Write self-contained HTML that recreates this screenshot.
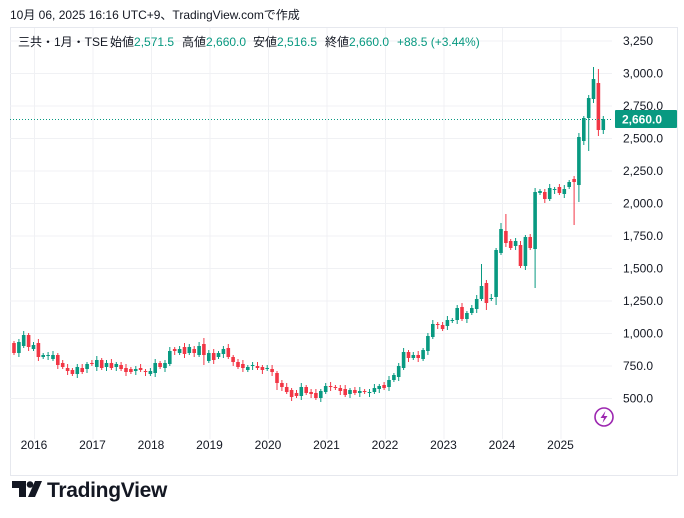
<!DOCTYPE html>
<html><head><meta charset="utf-8"><style>
body{margin:0;background:#fff;width:684px;height:518px;overflow:hidden;font-family:"Liberation Sans","Noto Sans CJK JP",sans-serif}
</style></head><body>
<svg id="s" width="684" height="518" xmlns="http://www.w3.org/2000/svg" style="position:absolute;left:0;top:0">
<rect x="10.5" y="27.5" width="667" height="448" fill="#fff" stroke="#e6e8ee"/>
<g id="grid" stroke="#f0f1f4" stroke-width="1"></g>
<g id="c"></g>
<line x1="10" y1="119.5" x2="612" y2="119.5" stroke="#089981" stroke-dasharray="1,2"/>
<g font-size="12" fill="#131722" font-family="Liberation Sans,sans-serif" id="ax"></g>
<rect x="615" y="110" width="62" height="18" fill="#089981" rx="1"/>
<text x="622" y="123.5" font-size="12" font-weight="bold" fill="#fff" font-family="Liberation Sans,sans-serif">2,660.0</text>
<circle cx="604" cy="417" r="9" fill="none" stroke="#9c27b0" stroke-width="1.6"/>
<path d="M605.5 411 L600.5 418 L604 418 L602.5 423 L607.5 416 L604 416 Z" fill="#9c27b0"/>
<text x="10" y="19" font-size="12" fill="#131722">10月 06, 2025 16:16 UTC+9、TradingView.comで作成</text>
<g font-size="12" fill="#131722">
<text x="18" y="46">三共・1月・TSE</text>
<text x="110" y="46">始値<tspan fill="#089981">2,571.5</tspan></text>
<text x="182" y="46">高値<tspan fill="#089981">2,660.0</tspan></text>
<text x="253" y="46">安値<tspan fill="#089981">2,516.5</tspan></text>
<text x="325" y="46">終値<tspan fill="#089981">2,660.0</tspan></text>
<text x="397" y="46" fill="#089981">+88.5 (+3.44%)</text>
</g>
<path d="M12 481 H26 V497 H19 V488 H12 Z" fill="#131722"/>
<circle cx="30" cy="484.5" r="3.3" fill="#131722"/>
<path d="M35 481 H42 L35 497 H28 Z" fill="#131722"/>
<text x="47" y="497" font-size="21" font-weight="bold" fill="#131722" letter-spacing="-0.3">TradingView</text>
</svg>
<script>
var d=[
['r',343,353],['g',342,353],['g',335,346],['r',335,347],['g',345,349],['r',343,357],['g',355,357],['g',355,356],['g',355,359],['r',355,365],
['r',363,367],['r',368,371],['r',370,374],['g',367,374],['r',368,372],['g',364,369],['r',363,364],['g',360,367],['r',360,368],['g',363,367],
['r',363,368],['g',364,367],['r',365,369],['r',368,372],['r',369,372],['g',369,371],['r',368,370],['r',371,372],['g',371,374],['g',363,373],
['r',363,367],['g',363,368],['g',351,364],['r',349,351],['g',349,353],['r',347,354],['g',347,353],['r',349,353],['g',346,355],['r',344,355],
['g',353,361],['r',353,360],['g',353,357],['g',349,354],['r',348,357],['r',357,362],['r',362,367],['r',364,368],['g',367,370],['g',365,366],
['r',366,368],['r',367,370],['g',368,369],['r',369,372],['r',373,383],['r',383,387],['r',387,392],['r',390,397],['r',393,396],['g',387,396],
['r',387,393],['r',392,394],['r',393,398],['g',391,398],['g',386,392],['r',386,387],['r',387,388],['r',388,391],['r',389,395],['g',390,394],
['r',390,393],['g',391,393],['r',391,392],['g',392,393],['g',388,392],['g',386,389],['r',385,388],['g',380,387],['g',375,380],['g',366,377],
['g',352,368],['r',352,358],['g',355,358],['r',355,358],['g',350,359],['g',336,351],['g',324,337],['r',324,325],['r',325,329],['g',320,326],
['g',320,321],['g',308,320],['r',307,319],['g',313,319],['g',308,313],['g',299,309],['g',286,299],['r',283,303],['g',298,299],['g',250,297],
['g',229,253],['r',231,243],['r',241,248],['g',241,246],['r',245,266],['g',237,266],['r',237,248],['g',192,249],['g',191,193],['r',192,199],
['g',188,199],['g',189,190],['r',187,193],['g',189,194],['g',182,187],['r',179,182],['g',137,185],['g',118,141],['g',98,118],['g',79,99],
['r',83,130],['g',119,130]];
var wk={96:[264,null],97:[280,310],99:[null,305],100:[223,null],101:[214,null],107:[null,288],
115:[null,225],116:[null,202],118:[null,151],119:[67,null],120:[69,136],121:[null,134],39:[338,365],36:[344,null],54:[null,390]};
var c=document.getElementById('c'),h='';
for(var i=0;i<d.length;i++){var x=14+i*4.87,t=d[i][1],b=d[i][2],col=d[i][0]=='g'?'#089981':'#f23645';
var ht=t-2-(i%3),lb=b+2+(i%2)*2;if(wk[i]){if(wk[i][0])ht=wk[i][0];if(wk[i][1])lb=wk[i][1];}
h+='<line x1="'+x.toFixed(1)+'" x2="'+x.toFixed(1)+'" y1="'+ht+'" y2="'+lb+'" stroke="'+col+'" stroke-width="1"/>';
h+='<rect x="'+(x-1.8).toFixed(1)+'" y="'+t+'" width="3.6" height="'+Math.max(1,b-t)+'" fill="'+col+'"/>';}
c.innerHTML=h;
var g='',a='';
for(var k=0;k<12;k++){var v=500+k*250,y=398-k*32.5;g+='<line x1="10" x2="612" y1="'+(y+0.5)+'" y2="'+(y+0.5)+'"/>';
var s=v.toLocaleString('en-US');if(v<3250)s+='.0';a+='<text x="623" y="'+(y+4.5)+'">'+s+'</text>';}
for(var yr=0;yr<10;yr++){var x=34+yr*58.5;g+='<line x1="'+(x+0.5)+'" x2="'+(x+0.5)+'" y1="28" y2="439"/>';
a+='<text x="'+x+'" y="449" text-anchor="middle">'+(2016+yr)+'</text>';}
document.getElementById('grid').innerHTML=g;document.getElementById('ax').innerHTML=a;
</script>
</body></html>
